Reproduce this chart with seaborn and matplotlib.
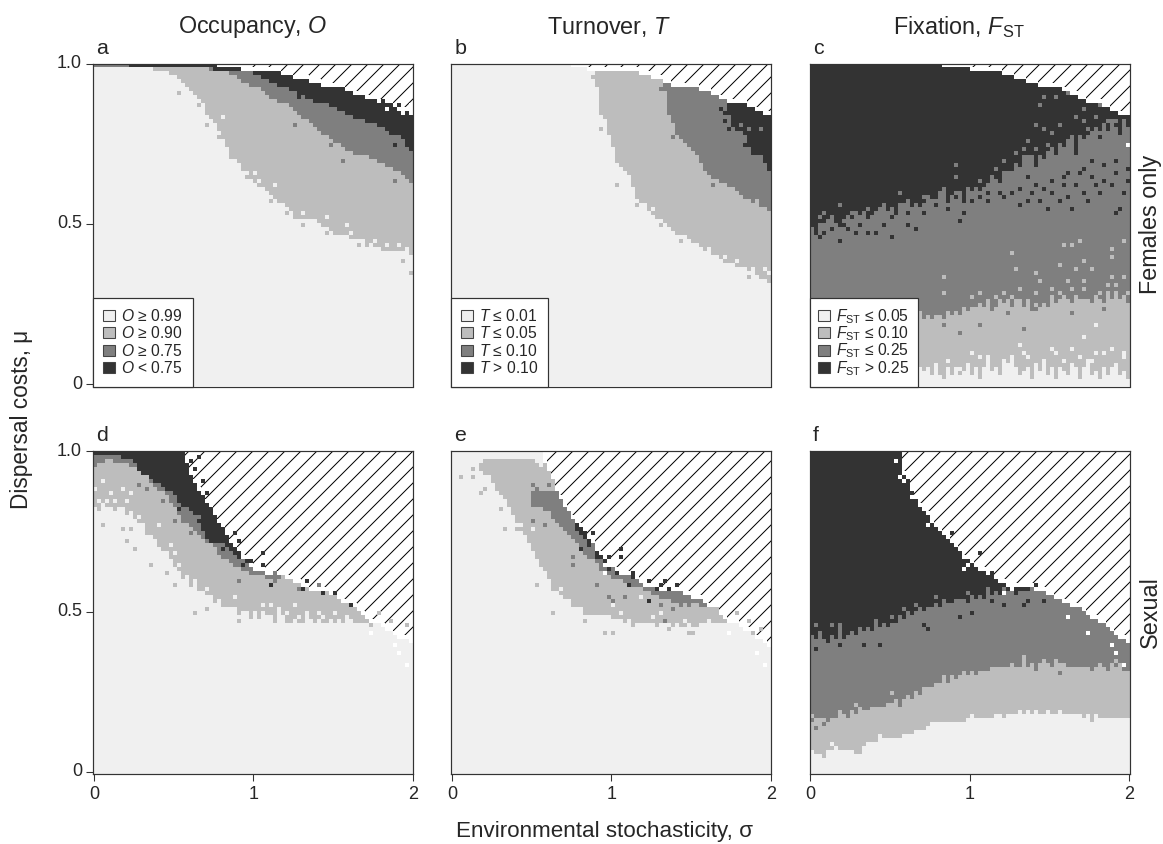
import numpy as np
import matplotlib
matplotlib.use("Agg")
import matplotlib.pyplot as plt
from matplotlib.colors import ListedColormap
from matplotlib.patches import Patch, Rectangle
import seaborn as sns

# --- values: mu * 100 per sigma column (80 columns, sigma 0..2) ---
# 101 means the band is absent in that column

# panel a - occupancy, females only
a_top = [101] * 26 + [100, 100, 100, 100, 100, 99, 99, 99,
    99, 99, 99, 98, 98, 98, 98, 97,
    97, 97, 97, 97, 97, 96, 96, 96,
    95, 95, 95, 95, 94, 94, 94, 93,
    93, 93, 92, 92, 92, 91, 91, 90,
    90, 90, 89, 89, 89, 88, 88, 87,
    87, 86, 85, 85, 85, 84]
a_dark = [101] * 9 + [99] * 18 + [99, 99, 99, 98, 98, 98, 98, 98, 97, 97,
    97, 97, 97, 96, 96, 95, 95, 94, 94, 93,
    92, 92, 91, 91, 90, 90, 89, 89, 88, 88,
    87, 87, 86, 86, 85, 85, 84, 84, 83, 83,
    82, 82, 81, 81, 80, 80, 79, 78, 78, 77,
    76, 75, 73]
a_mid = [99] * 26 + [99, 99, 99, 98, 98, 98, 98, 97, 96, 96,
    95, 94, 94, 93, 93, 92, 91, 90, 89, 89,
    88, 87, 87, 86, 85, 84, 83, 82, 81, 80,
    79, 78, 77, 76, 75, 75, 74, 73, 73, 72,
    72, 71, 71, 70, 70, 69, 69, 68, 68, 67,
    66, 65, 64, 63]
a_light = [99] * 14 + [99, 98, 98, 97, 97, 96, 96, 95, 94, 93,
    91, 90, 89, 87, 85, 83, 81, 79, 76, 74,
    72, 70, 69, 67, 66, 64, 63, 62, 61, 60,
    59, 58, 57, 56, 55, 54, 52, 52, 52, 52,
    51, 51, 50, 49, 49, 48, 47, 47, 46, 46,
    45, 45, 45, 45, 44, 44, 43, 43, 43, 42,
    42, 42, 42, 41, 41, 40]
a_spots = {
    0: [(.82, .83), (1.01, .655), (1.135, .62), (1.45, .52), (1.58, .50), (1.9, .44), (1.04, .63), (1.3, .53),
        (1.62, .47), (1.75, .45), (1.84, .43), (1.96, .42)],
    1: [(.54, .91), (.72, .81), (.78, .77), (.865, .71), (1.115, .57), (1.46, .47), (2.0, .35), (1.82, .42),
        (.66, .87), (.7, .84), (.95, .64), (1.2, .53), (1.3, .50), (1.66, .43), (1.72, .44), (1.93, .39)],
    2: [(1.1, .90), (1.26, .81), (1.48, .75), (1.57, .70), (1.625, .72), (1.88, .63), (1.89, .665)],
    3: [(1.29, .90), (1.7, .825), (1.875, .75), (1.95, .74), (1.99, .73), (1.8, .88), (1.9, .865)],
    4: [(1.83, .855), (1.93, .85), (1.99, .87)],
}

# panel b - turnover, females only
b_top = [101] * 26 + [100, 100, 100, 100, 99, 99, 99, 99, 98, 98,
    98, 98, 98, 98, 98, 98, 97, 97, 97, 97,
    97, 96, 96, 96, 95, 95, 95, 94, 94, 93,
    93, 93, 92, 92, 92, 92, 91, 91, 91, 90,
    90, 89, 89, 88, 88, 88, 87, 87, 86, 86,
    85, 85, 84, 84]
b_dark = [101] * 69 + [84, 80, 80, 79, 77, 74, 73, 72, 71, 69, 66]
b_mid = [101] * 53 + [91, 84, 81, 77, 76, 75, 74, 73, 71, 69, 67, 65,
    64, 64, 63, 63, 62, 61, 60, 59, 58, 57,
    57, 56, 55, 55, 54]
b_light = [101] * 36 + [93, 84, 82, 78, 74, 69, 68, 67, 65, 62,
    58, 57, 55, 54, 53, 52, 51, 50, 49, 48,
    47, 46, 46, 45, 44, 43, 43, 42, 41, 40,
    40, 39, 39, 38, 38, 37, 36, 36, 35, 35,
    34, 34, 33, 33]
b_spots = {
    0: [(1.26, .545), (1.365, .49), (1.53, .435), (1.72, .40), (1.885, .365), (1.14, .60), (1.2, .56), (1.62, .42),
        (1.78, .38), (1.95, .36), (1.98, .35)],
    1: [(1.04, .626), (1.125, .615), (1.365, .50), (1.447, .445), (1.655, .41), (1.99, .325), (1.925, .33),
        (.88, .96), (.94, .80), (1.9, .565), (1.85, .575), (1.915, .56), (1.16, .56), (1.3, .50), (1.7, .385),
        (1.8, .37), (1.86, .34)],
    2: [(1.635, .615), (1.395, .775), (1.457, .775), (1.31, .915), (1.81, .81), (1.85, .79), (1.925, .80)],
    3: [(1.72, .845), (1.705, .82), (1.76, .82), (1.75, .86), (1.83, .74), (1.89, .725), (1.68, .86), (1.74, .80),
        (1.79, .79)],
}

# panel c - fixation, females only
c_top = [101] * 23 + [100, 100, 100, 100, 100, 100, 100, 100, 100, 100,
    99, 99, 99, 99, 99, 99, 99, 98, 98, 98,
    98, 98, 97, 97, 97, 96, 96, 96, 95, 95,
    95, 94, 94, 94, 93, 93, 92, 92, 92, 92,
    91, 91, 90, 90, 89, 89, 88, 88, 87, 87,
    86, 86, 85, 85, 84, 84, 84]
c_dark = [49, 47, 50, 50, 52, 51, 50, 49, 52, 53,
    52, 54, 53, 54, 52, 53, 54, 55, 56, 54,
    55, 53, 56, 57, 56, 55, 57, 55, 57, 59,
    58, 58, 60, 61, 57, 59, 58, 60, 57, 61,
    60, 62, 60, 62, 63, 65, 64, 63, 66, 66,
    67, 69, 68, 71, 70, 72, 68, 72, 70, 73,
    74, 71, 75, 74, 76, 78, 72, 77, 76, 78,
    79, 80, 76, 81, 79, 82, 80, 78, 82, 80]
c_mid = [24] * 27 + [23, 22, 22, 21, 22, 22, 21, 23, 22, 23,
    22, 24, 23, 24, 24, 25, 24, 26, 23, 24,
    26, 25, 27, 24, 26, 26, 24, 27, 23, 25,
    24, 25, 24, 27, 25, 26, 28, 26, 25, 28,
    26, 27, 26, 25, 28, 27, 25, 29, 26, 28,
    26, 27, 25]
c_light = [5] * 27 + [5, 4, 6, 3, 7, 3, 2, 5, 3, 6,
    3, 4, 7, 3, 5, 2, 6, 8, 4, 5,
    3, 8, 7, 9, 5, 3, 4, 6, 2, 7,
    4, 8, 3, 5, 2, 6, 4, 3, 7, 5,
    2, 6, 8, 3, 4, 2, 5, 3, 6, 7,
    3, 4, 2]
c_spots = {
    0: [(1.795, .19), (1.70, .15), (1.795, .095), (1.885, .115), (1.535, .095), (1.64, .105), (1.26, .075),
        (1.365, .085), (1.055, .085), (.93, .05), (.865, .07), (1.45, .065), (1.97, .085), (1.325, .095),
        (1.22, .07), (1.16, .045), (1.575, .075), (1.0, .10), (1.1, .08), (1.3, .12), (1.5, .11), (1.68, .09),
        (1.75, .07), (1.83, .10), (1.9, .06), (1.95, .10)],
    1: [(1.575, .44), (1.64, .44), (1.68, .445), (1.26, .41), (1.285, .365), (1.555, .375), (1.71, .39),
        (1.66, .36), (1.75, .355), (1.42, .345), (1.44, .32), (1.875, .42), (1.875, .40), (1.97, .45),
        (.825, .33), (.825, .28), (1.63, .30), (1.70, .325), (1.89, .33), (1.96, .34), (1.16, .275),
        (1.51, .275), (1.91, .305), (1.40, .28), (1.0, .27), (1.05, .28), (1.1, .26), (1.2, .29), (1.27, .27),
        (1.3, .30), (1.5, .30), (1.55, .28), (1.6, .32), (1.65, .27), (1.72, .30), (1.8, .29), (1.85, .31),
        (1.9, .28), (1.95, .27), (1.98, .29)],
    2: [(.92, .68), (.92, .645), (1.285, .725), (1.325, .735), (1.41, .81), (1.46, .80), (1.555, .81),
        (1.44, .865), (1.46, .895), (1.53, .895), (1.615, .905), (1.72, .855), (1.74, .80), (1.49, .74),
        (1.575, .72), (1.70, .715), (1.805, .75), (1.51, .70), (1.64, .76), (1.89, .79), (1.95, .81),
        (1.78, .835), (1.2, .69), (1.16, .67), (.095, .53), (.18, .56), (.565, .595), (.805, .595),
        (1.365, .71), (.71, .205), (.835, .185), (.94, .16), (1.065, .185), (1.345, .17), (1.24, .22),
        (1.41, .23), (1.64, .225), (1.825, .24), (1.35, .76), (1.42, .73), (1.5, .78), (1.6, .74), (1.68, .76),
        (1.75, .74), (1.82, .78), (1.87, .75), (1.93, .77), (1.97, .78), (1.65, .83), (1.72, .82), (1.8, .87),
        (1.85, .82), (1.92, .82), (1.55, .70), (1.45, .68), (1.38, .69), (1.3, .66), (1.25, .65), (1.05, .63),
        (1.0, .60), (.9, .60), (.72, .58), (.62, .57), (.45, .55), (.35, .55), (.25, .53), (.14, .52), (.05, .52)],
    3: [(.085, .47), (.19, .445), (.23, .48), (.355, .47), (.41, .47), (.52, .46), (.605, .50), (.66, .485),
        (.96, .53), (.94, .505), (1.64, .545), (1.9, .535), (1.94, .55), (1.44, .565), (1.26, .60),
        (1.365, .575), (1.51, .59), (1.74, .575), (1.575, .615), (1.66, .625), (1.825, .635), (1.91, .655),
        (1.99, .67), (1.78, .615), (1.6, .66), (1.7, .67), (1.365, .64), (1.45, .605), (1.05, .58), (1.12, .575),
        (1.2, .58), (1.3, .56), (1.38, .60), (1.48, .55), (1.55, .57), (1.62, .58), (1.7, .60), (1.75, .64),
        (1.82, .60), (1.88, .62), (1.95, .60), (1.98, .63), (1.9, .70), (1.84, .68), (1.76, .69), (1.68, .66),
        (1.58, .64), (1.52, .63), (1.42, .62), (1.3, .61), (1.18, .60), (1.1, .60), (1.02, .57), (.85, .55),
        (.78, .56), (.7, .53), (.62, .53), (.5, .52), (.45, .50), (.3, .50), (.22, .50), (.13, .49), (.05, .46),
        (.28, .47)],
    4: [(1.99, .75)],
}

# panel d - occupancy, sexual
d_top = [101] * 23 + [96, 92, 90, 88, 86, 84, 82, 80, 78, 76,
    74, 72, 70, 69, 67, 66, 64, 63, 63, 63,
    62, 62, 62, 62, 61, 60, 60, 59, 59, 58,
    58, 57, 57, 57, 56, 56, 55, 55, 54, 53,
    53, 52, 51, 50, 49, 48, 47, 46, 46, 45,
    44, 44, 43, 42, 41, 41, 40]
d_dark = [99, 99, 99, 99, 99, 99, 99, 98, 98, 97,
    96, 94, 93, 92, 91, 91, 90, 89, 88, 87,
    86, 84, 83, 83, 81, 80, 78, 75, 73, 72,
    72, 71, 71, 70, 69, 68, 67, 67, 66, 66] + [101] * 40
d_mid = [95, 96, 96, 97, 97, 96, 96, 96, 96, 95,
    95, 94, 93, 92, 90, 89, 88, 87, 86, 84,
    82, 80, 78, 77, 76, 75, 74, 73, 72, 71,
    70, 68, 67, 66, 65, 64, 64, 63, 63, 62,
    62, 61, 61, 60, 60, 60, 60] + [101] * 33
d_light = [83, 81, 84, 82, 83, 81, 82, 82, 80, 81,
    79, 77, 76, 74, 74, 72, 70, 68, 69, 66,
    64, 63, 60, 61, 58, 59, 56, 57, 55, 55,
    53, 54, 52, 51, 50, 52, 49, 50, 49, 48,
    50, 48, 50, 49, 49, 47, 50, 49, 47, 48,
    48, 49, 47, 49, 48, 47, 48, 49, 47, 48,
    47, 48, 47, 49, 48, 47, 46, 47, 46, 45] + [101] * 10
d_spots = {
    0: [(.06, .91), (.02, .88), (.175, .885), (.23, .865), (.125, .845), (.415, .765), (.48, .705), (.54, .65),
        (.625, .595), (.71, .57), (.875, .54), (1.10, .525), (1.27, .525), (.96, .50), (1.165, .505),
        (1.415, .50), (.50, .68), (.04, .85), (.08, .84), (.1, .87), (.2, .84), (.28, .79), (.32, .77), (.38, .72),
        (.44, .68), (.5, .62), (.58, .60), (.66, .55), (.78, .53), (.85, .51), (1.0, .50), (1.05, .52),
        (1.2, .50), (1.33, .50), (1.5, .50)],
    1: [(.05, .775), (.19, .755), (.23, .76), (.21, .72), (.25, .70), (.365, .64), (.47, .62), (.52, .58),
        (.645, .50), (.705, .51), (.915, .47), (1.24, .467), (1.29, .47), (1.44, .467), (1.855, .475),
        (1.79, .495), (1.95, .455)],
    2: [(1.14, .625), (1.42, .585), (1.28, .57), (.92, .59), (1.125, .60), (.915, .66), (1.0, .62), (1.02, .625),
        (1.05, .62), (.29, .895), (.345, .885), (.425, .85), (.52, .785), (.605, .74), (.65, .795)],
    3: [(.605, .97), (.665, .985), (.625, .945), (.685, .905), (.705, .865), (.88, .745), (.92, .715), (1.06, .685),
        (1.06, .645), (1.12, .58), (1.335, .595), (1.315, .575), (1.44, .56), (1.515, .56), (1.615, .525),
        (.96, .655), (.98, .655), (.94, .64), (.74, .715), (.80, .70), (.53, .825), (.385, .905)],
    4: [(1.73, .44), (1.895, .40), (1.91, .37), (1.955, .34), (1.98, .415), (1.875, .44)],
}

# panel e - turnover, sexual
e_top = [101] * 23 + [96, 94, 91, 87, 85, 83, 81, 79, 77, 76,
    75, 73, 71, 69, 68, 66, 65, 64, 63, 62,
    62, 61, 60, 60, 59, 58, 58, 58, 57, 57,
    57, 57, 56, 56, 56, 55, 55, 54, 54, 54,
    53, 52, 52, 51, 49, 48, 47, 46, 46, 45,
    44, 44, 43, 42, 41, 40, 39]
e_dark = [101] * 31 + [75, 74, 73, 70, 101, 66, 66, 64, 63, 101, 62, 61, 61] + [101] * 36
e_mid = [101] * 20 + [83, 83, 82, 81, 81, 79, 77, 76, 75, 74,
    73, 71, 70, 68, 67, 66, 65, 63, 63, 61,
    60, 60, 60, 59, 59, 58, 58, 58, 56, 56,
    55, 55, 54, 54, 54, 53, 53, 52, 53, 52,
    53, 53, 52, 52] + [101] * 16
e_mid_cap = [200] * 20 + [87, 89, 88, 87, 88, 88] + [200] * 54
e_light = [101] * 7 + [94, 93, 92, 90, 88, 86, 85, 82, 80, 78,
    75, 74, 71, 69, 67, 64, 62, 59, 57, 56,
    55, 54, 53, 52, 51, 50, 49, 49, 49, 49,
    49, 48, 49, 48, 48, 48, 47, 48, 47, 47,
    47, 46, 47, 46, 46, 46, 47, 46, 45, 46,
    45, 45, 46, 45, 45, 46, 46, 46, 46, 46,
    46, 46, 46, 47] + [101] * 9
e_light_cap = [200] * 7 + [96, 97, 98, 98, 98, 98, 98, 98, 98, 98, 98, 98, 97, 97, 96, 95] + [200] * 57
e_spots = {
    0: [(.50, .755), (.51, .68), (.575, .62), (.69, .57), (.80, .505), (1.0, .517), (1.06, .495), (1.19, .547),
        (.95, .485), (1.3, .50), (.44, .77), (.46, .72), (.52, .66), (.6, .6), (.66, .55), (.74, .53), (.86, .49),
        (1.1, .47), (1.25, .48), (1.45, .47), (1.6, .47)],
    1: [(.055, .915), (.125, .947), (.145, .915), (.21, .885), (.25, .905), (.19, .865), (.315, .817), (.345, .757),
        (.42, .76), (.53, .58), (.645, .50), (.96, .43), (1.02, .44), (.845, .467), (1.125, .457), (1.28, .455),
        (1.355, .45), (1.48, .44), (1.52, .43), (1.875, .435), (1.945, .45), (1.79, .495), (1.85, .475)],
    2: [(.52, .895), (.615, .895), (.52, .785), (.585, .775), (.76, .645), (.905, .585), (.98, .547), (1.01, .532),
        (1.31, .517), (1.395, .506), (1.33, .477), (.75, .667), (1.095, .547), (1.2, .57)],
    3: [(.88, .75), (1.06, .69), (1.06, .667), (1.135, .625), (1.24, .60), (1.34, .60), (1.415, .587), (1.24, .537),
        (1.115, .58), (1.125, .605), (1.28, .57), (1.36, .577), (1.32, .58), (.95, .657), (.98, .667), (.80, .70)],
    4: [(.95, .64), (.99, .64), (.97, .625), (1.915, .366), (1.955, .337), (1.73, .44), (1.85, .445)],
}

# panel f - fixation, sexual
f_top = [101] * 23 + [93, 91, 87, 85, 83, 81, 80, 78, 76, 75,
    74, 73, 72, 70, 69, 67, 66, 65, 64, 63,
    63, 62, 61, 60, 59, 59, 58, 58, 58, 58,
    58, 58, 58, 57, 57, 56, 55, 55, 54, 54,
    53, 53, 52, 52, 51, 50, 49, 48, 48, 47,
    46, 45, 44, 43, 42, 41, 40]
f_dark = [43, 42, 44, 42, 40, 43, 42, 45, 42, 43,
    44, 43, 45, 44, 45, 44, 46, 45, 47, 45,
    47, 46, 49, 48, 50, 49, 50, 52, 50, 52,
    52, 53, 52, 54, 53, 53, 54, 54, 54, 53,
    55, 54, 55, 54, 56, 55, 56, 55, 57, 56,
    57, 55, 56, 56, 57] + [101] * 25
f_mid = [16, 17, 17, 17, 16, 17, 17, 18, 18, 17,
    19, 18, 20, 19, 19, 20, 20, 20, 21, 22,
    22, 23, 21, 23, 24, 23, 25, 24, 26, 26,
    27, 28, 28, 29, 28, 30, 29, 30, 31, 30,
    31, 30, 32, 31, 32, 33, 33, 33, 33, 33,
    34, 33, 33, 35, 33, 34, 33, 34, 35, 34,
    33, 34, 34, 34, 33, 33, 33, 33, 33, 33,
    33, 33, 34, 33, 32, 34, 33, 34, 32, 31]
f_light = [7, 6, 6, 6, 7, 7, 8, 7, 7, 7,
    7, 6, 6, 8, 9, 9, 9, 10, 10, 11,
    11, 11, 11, 12, 12, 12, 13, 13, 13, 14,
    14, 15, 15, 15, 15, 16, 16, 16, 16, 17,
    17, 17, 17, 17, 17, 17, 18, 18, 17, 18,
    18, 18, 19, 18, 19, 18, 19, 18, 18, 19,
    19, 18, 19, 18, 18, 18, 18, 18, 18, 18,
    17, 18, 17, 17, 17, 17, 17, 17, 17, 17]
f_spots = {
    0: [(.125, .09), (.44, .107), (.76, .148), (1.0, .17)],
    1: [(1.345, .355), (.52, .247), (.28, .205), (.19, .185), (.885, .295), (.97, .31), (1.46, .35), (1.53, .35),
        (1.91, .345), (.02, .175), (.825, .30), (1.075, .31), (.075, .05), (1.34, .185), (1.5, .18), (1.75, .165),
        (1.7, .175)],
    2: [(.035, .455), (.125, .465), (.19, .465), (.41, .47), (.50, .485), (.595, .505), (.65, .515), (.785, .547),
        (.98, .557), (1.115, .568), (1.2, .568), (.085, .148), (.045, .14), (1.555, .31), (1.77, .32), (1.4, .32)],
    3: [(.035, .387), (.18, .40), (.345, .397), (.43, .40), (.70, .455), (.74, .45), (.94, .487), (1.02, .497),
        (1.22, .527), (1.325, .517), (1.355, .537), (1.14, .537), (.875, .745), (1.06, .688), (1.14, .625),
        (1.41, .586), (1.45, .537)],
    4: [(.97, .667), (.99, .65), (.95, .63), (.525, .975), (.565, .925), (.585, .905), (.625, .86), (.74, .775),
        (1.2, .558), (1.26, .57), (1.615, .487), (1.735, .44), (1.89, .397), (1.91, .37), (1.96, .335), (1.99, .41)],
}

col_titles = ["Occupancy, $\\mathit{O}$", "Turnover, $\\mathit{T}$", "Fixation, $\\mathit{F}_{\\mathrm{ST}}$"]
row_titles = ["Females only", "Sexual"]
panel_letters = ["a", "b", "c", "d", "e", "f"]
legend_o = ["$\\mathit{O}$ ≥ 0.99", "$\\mathit{O}$ ≥ 0.90", "$\\mathit{O}$ ≥ 0.75", "$\\mathit{O}$ < 0.75"]
legend_t = ["$\\mathit{T}$ ≤ 0.01", "$\\mathit{T}$ ≤ 0.05", "$\\mathit{T}$ ≤ 0.10", "$\\mathit{T}$ > 0.10"]
legend_f = ["$\\mathit{F}_{\\mathrm{ST}}$ ≤ 0.05", "$\\mathit{F}_{\\mathrm{ST}}$ ≤ 0.10",
            "$\\mathit{F}_{\\mathrm{ST}}$ ≤ 0.25", "$\\mathit{F}_{\\mathrm{ST}}$ > 0.25"]
greys = ["#f0f0f0", "#bdbdbd", "#7f7f7f", "#333333", "#ffffff"]

N_COLS = 80
N_ROWS = 81
ROWS_PER_UNIT = 80.4
W, H = 1163, 844


def build_grid(top, bands, spots):
    """stacks the bands (lower edge, upper edge, level) into a cell grid, row 0 is mu = 1"""
    pct = (1 - (np.arange(N_ROWS) + 0.5) / ROWS_PER_UNIT)[:, None] * 100
    grid = np.zeros((N_ROWS, N_COLS))
    for lower, upper, level in bands:
        lower = np.array(lower)[None, :]
        upper = np.array(upper)[None, :]
        grid[(pct >= lower) & (pct < upper)] = level
    top = np.array(top)[None, :]
    grid[pct >= top] = np.nan
    grid[(pct >= top) & (pct < top + 1.25)] = 4
    for level, points in spots.items():
        for sigma, mu in points:
            col = min(int(sigma / 2 * N_COLS), N_COLS - 1)
            row = int(np.clip(round((1 - mu) * ROWS_PER_UNIT - 0.5), 0, N_ROWS - 1))
            grid[row, col] = level
    return grid


no_cap = [200] * N_COLS
panels = [
    (a_top, [(a_light, no_cap, 1), (a_mid, no_cap, 2), (a_dark, no_cap, 3)], a_spots, legend_o),
    (b_top, [(b_light, no_cap, 1), (b_mid, no_cap, 2), (b_dark, no_cap, 3)], b_spots, legend_t),
    (c_top, [(c_light, no_cap, 1), (c_mid, no_cap, 2), (c_dark, no_cap, 3)], c_spots, legend_f),
    (d_top, [(d_light, no_cap, 1), (d_mid, no_cap, 2), (d_dark, no_cap, 3)], d_spots, None),
    (e_top, [(e_light, e_light_cap, 1), (e_mid, e_mid_cap, 2), (e_dark, no_cap, 3)], e_spots, None),
    (f_top, [(f_light, no_cap, 1), (f_mid, no_cap, 2), (f_dark, no_cap, 3)], f_spots, None),
]

sns.set_theme(style="white")
plt.rcParams["font.family"] = ["Liberation Sans", "DejaVu Sans"]
plt.rcParams["mathtext.fontset"] = "custom"
plt.rcParams["mathtext.rm"] = "Liberation Sans"
plt.rcParams["mathtext.it"] = "Liberation Sans:italic"
plt.rcParams["hatch.linewidth"] = 0.75

fig = plt.figure(figsize=(W / 96, H / 96))

lefts = [93.3, 451.3, 809.7]
tops = [63.5, 451.3]
ax_w, ax_h = 320, 323
cmap = ListedColormap(greys)

for i, (top, bands, spots, legend_labels) in enumerate(panels):
    row, col = divmod(i, 3)
    ax = fig.add_axes([lefts[col] / W, 1 - (tops[row] + ax_h) / H, ax_w / W, ax_h / H])
    grid = build_grid(top, bands, spots)
    sns.heatmap(grid, ax=ax, mask=np.isnan(grid), cmap=cmap, vmin=0, vmax=4, cbar=False,
                xticklabels=False, yticklabels=False)
    # hatching only where the cells are masked, kept off the left and bottom edges
    ax.add_patch(Rectangle((0.2, 0.3), 0.8, 0.7, transform=ax.transAxes, facecolor="white",
                           edgecolor="black", hatch="//", linewidth=0, zorder=0))
    for spine in ax.spines.values():
        spine.set_visible(True)
        spine.set_color("#333333")
        spine.set_linewidth(0.9)

    ax.tick_params(length=5.5, width=0.8, color="#333333", labelsize=13.5, pad=3)
    if row == 1:
        ax.set_xticks([0.15, 40, 79.85], ["0", "1", "2"])
        ax.tick_params(bottom=True)
    else:
        ax.set_xticks([])
    if col == 0:
        ax.set_yticks([0.05, 0.5 * ROWS_PER_UNIT, ROWS_PER_UNIT], ["1.0", "0.5", "0"], rotation=0, va="center")
        ax.tick_params(left=True)
    else:
        ax.set_yticks([])

    if legend_labels is not None:
        handles = [Patch(facecolor=c, edgecolor="#444444", linewidth=0.8) for c in greys[:4]]
        spacing = -0.08 if legend_labels is legend_f else 0.1
        pad = 0.55 if legend_labels is legend_f else 0.65
        ax.legend(handles, legend_labels, loc="lower left", borderaxespad=0, fancybox=False,
                  framealpha=1, edgecolor="#333333", fontsize=11.7, handlelength=0.72,
                  handleheight=0.72, handletextpad=0.4, labelspacing=spacing,
                  borderpad=pad).get_frame().set_linewidth(0.9)

    fig.text((lefts[col] + 3) / W, 1 - (tops[row] - 6) / H, panel_letters[i], fontsize=16, ha="left", va="bottom")

title_x = [252.5, 609, 959]
for col, title in enumerate(col_titles):
    fig.text(title_x[col] / W, 1 - 27 / H, title, fontsize=17.5, ha="center", va="center")
for row, title in enumerate(row_titles):
    fig.text(1150 / W, 1 - (tops[row] + 161) / H, title, fontsize=17.5, rotation=90, ha="center", va="center")

fig.text(22 / W, 1 - 419 / H, "Dispersal costs, μ", fontsize=17, rotation=90, ha="center", va="center")
fig.text(605 / W, 1 - 832 / H, "Environmental stochasticity, σ", fontsize=16.8, ha="center", va="center")

fig.savefig("out.png", dpi=96)
